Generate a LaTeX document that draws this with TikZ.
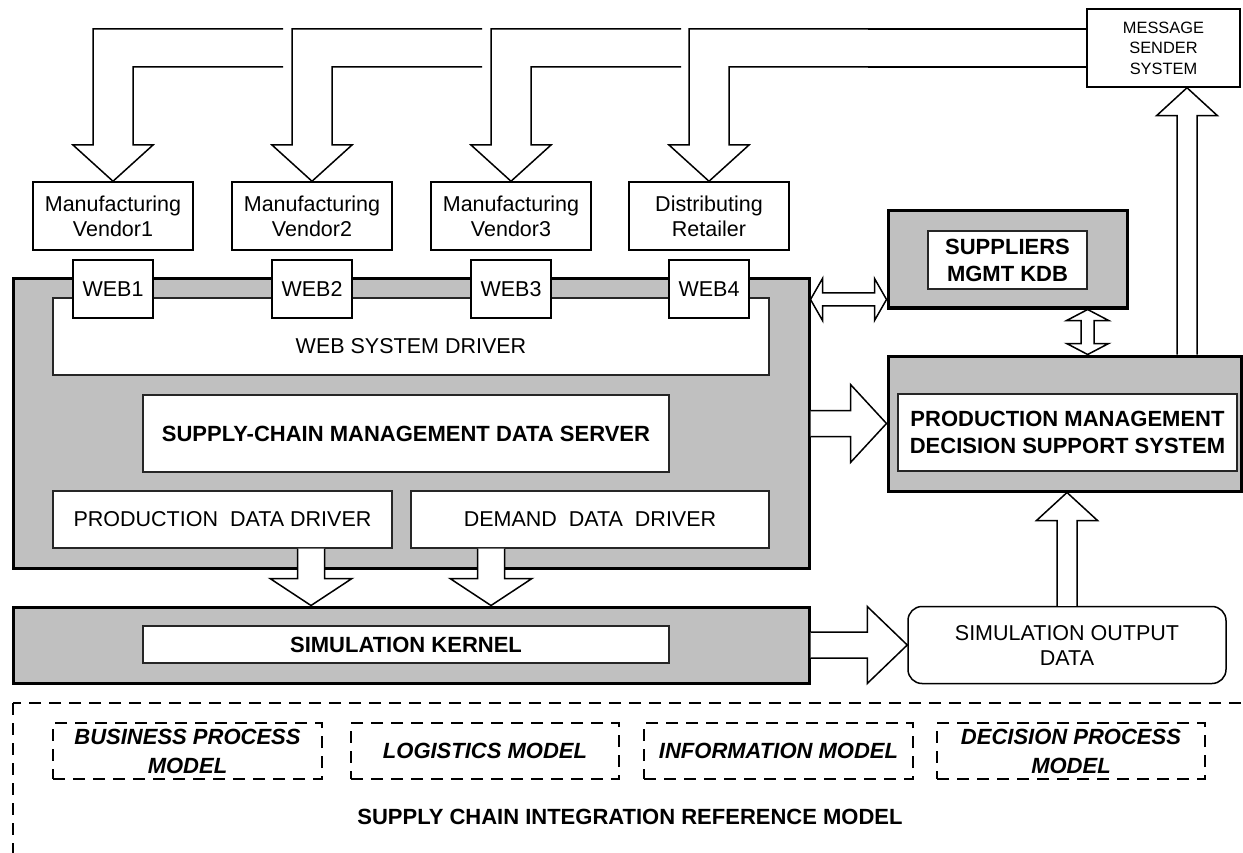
\documentclass[tikz,border=0pt]{standalone}
\usepackage{fontspec}
\setmainfont{Liberation Sans}
\usetikzlibrary{calc}
\definecolor{panelgray}{RGB}{192,192,192}
\newcommand{\txtfont}{\fontsize{21.5}{25}\selectfont}
\newcommand{\hdfont}{\fontsize{22}{27}\selectfont\bfseries}
\newcommand{\mdlfont}{\fontsize{22}{29}\selectfont\bfseries\itshape}
\newcommand{\msgfont}{\fontsize{16.4}{20.5}\selectfont}
\tikzset{
  box/.style={draw, line width=1.5pt, fill=white, align=center, inner sep=0pt, font=\txtfont},
  panel/.style={draw, line width=3pt, fill=panelgray, inner sep=0pt},
  inbox/.style={draw=black!85, line width=1.3pt, fill=white, align=center, inner sep=0pt, font=\txtfont},
  modelbox/.style={draw, line width=2.4pt, dash pattern=on 12pt off 8pt, align=center, inner sep=0pt, font=\mdlfont},
  refframe/.style={draw, line width=2.4pt, dash pattern=on 12pt off 8pt},
  blockarrow/.style={draw, line width=1.5pt, fill=white, line join=miter},
  bus/.style={draw, line width=1.5pt, line join=miter}
}
\newcommand{\fatarrow}[5]{%
  \draw[blockarrow] let \p1=(#1), \p2=(#2),
    \n1={atan2(\y2-\y1,\x2-\x1)}, \n2={veclen(\x2-\x1,\y2-\y1)} in
    [shift={(\p1)}, rotate=\n1]
    (0pt,#3pt) -- ({\n2-#5pt},#3pt) -- ({\n2-#5pt},#4pt) -- ({\n2*1pt},0pt)
    -- ({\n2-#5pt},-#4pt) -- ({\n2-#5pt},-#3pt) -- (0pt,-#3pt);}
\newcommand{\fatdblarrow}[5]{%
  \draw[blockarrow] let \p1=(#1), \p2=(#2),
    \n1={atan2(\y2-\y1,\x2-\x1)}, \n2={veclen(\x2-\x1,\y2-\y1)} in
    [shift={(\p1)}, rotate=\n1]
    (0pt,0pt) -- (#5pt,#4pt) -- (#5pt,#3pt) -- ({\n2-#5pt},#3pt) -- ({\n2-#5pt},#4pt)
    -- ({\n2*1pt},0pt) -- ({\n2-#5pt},-#4pt) -- ({\n2-#5pt},-#3pt) -- (#5pt,-#3pt)
    -- (#5pt,-#4pt) -- cycle;}

\begin{document}
\begin{tikzpicture}[x=1pt, y=-1pt]
\useasboundingbox (0,0) rectangle (1243,853);

\node[panel, minimum width=796, minimum height=289]              (server)        at ( 411,423.5) {};
\node[inbox, minimum width=716, minimum height=77]               (webdriver)     at ( 411,336.5) {};
\node[font=\txtfont]                                             (webdrivertext) at ( 411,346)   {WEB SYSTEM DRIVER};
\node[inbox, font=\hdfont, minimum width=526, minimum height=77] (dataserver)    at ( 406,433.5) {SUPPLY-CHAIN MANAGEMENT DATA SERVER};
\node[inbox, minimum width=339, minimum height=57]               (proddriver)    at (222.5,519.5) {PRODUCTION\ \ DATA DRIVER};
\node[inbox, minimum width=358, minimum height=57]               (demanddriver)  at ( 590,519.5) {DEMAND\ \ DATA\ \ DRIVER};

\node[box, minimum width=160, minimum height=68] (vendor1)  at (113,216) {Manufacturing\\Vendor1};
\node[box, minimum width=160, minimum height=68] (vendor2)  at (312,216) {Manufacturing\\Vendor2};
\node[box, minimum width=160, minimum height=68] (vendor3)  at (511,216) {Manufacturing\\Vendor3};
\node[box, minimum width=160, minimum height=68] (retailer) at (709,216) {Distributing\\Retailer};
\node[box, minimum width=80, minimum height=58]  (web1)     at (113,289) {WEB1};
\node[box, minimum width=80, minimum height=58]  (web2)     at (312,289) {WEB2};
\node[box, minimum width=80, minimum height=58]  (web3)     at (511,289) {WEB3};
\node[box, minimum width=80, minimum height=58]  (web4)     at (709,289) {WEB4};

\node[panel, minimum width=239, minimum height=97]               (suppliers) at (1007.5,259.5) {};
\node[inbox, font=\hdfont, minimum width=159, minimum height=58] (kdb)       at (1007.5,260)   {SUPPLIERS\\MGMT KDB};
\node[panel, minimum width=353, minimum height=135]              (pmdss)     at (1064.5,423.5) {};
\node[inbox, font=\hdfont, minimum width=339, minimum height=77] (dss)       at (1067.5,432.5) {PRODUCTION MANAGEMENT\\DECISION SUPPORT SYSTEM};
\node[box, font=\msgfont, minimum width=153, minimum height=78]  (message)   at (1163.5,48)    {MESSAGE\\SENDER\\SYSTEM};

\node[panel, minimum width=796, minimum height=76]                (sim)    at ( 411,645)   {};
\node[inbox, font=\hdfont, minimum width=526, minimum height=37]  (kernel) at ( 406,644.5) {SIMULATION KERNEL};
\node[box, rounded corners=14, minimum width=318, minimum height=77] (output) at (1067,645) {SIMULATION OUTPUT\\DATA};

\draw[refframe] (13,703) rectangle (1300,900);
\node[modelbox, minimum width=269, minimum height=56] (bpm)  at ( 187.5,751) {BUSINESS PROCESS\\MODEL};
\node[modelbox, minimum width=268, minimum height=56] (logm) at ( 485,751)   {LOGISTICS MODEL};
\node[modelbox, minimum width=269, minimum height=56] (infm) at ( 778.5,751) {INFORMATION MODEL};
\node[modelbox, minimum width=268, minimum height=56] (dpm)  at (1071,751)   {DECISION PROCESS\\MODEL};
\node[font=\hdfont] (refmodel) at (630,817) {SUPPLY CHAIN INTEGRATION REFERENCE MODEL};

\foreach \v/\xc/\xe in {vendor1/113/283, vendor2/312/482, vendor3/511/681, retailer/709/868}
  \draw[bus] (\xe,29) -- (\xc-20,29) -- (\xc-20,145) -- (\xc-40,145) -- (\v.north)
    -- (\xc+40,145) -- (\xc+20,145) -- (\xc+20,67) -- (\xe,67);
\coordinate (busout) at (868,29);
\coordinate (busin)  at (868,67);
\draw[bus] (busout) -- (busout -| message.west);
\draw[bus] (busin) -- (busin -| message.west);

\coordinate (prodport)   at ($(proddriver.south)+(88.5,0)$);
\coordinate (demandport) at ($(demanddriver.south)+(-99,0)$);
\coordinate (msgport)    at ($(message.south)+(23.5,0)$);
\coordinate (kdbport)    at ($(suppliers.south west)+(0,-10)$);
\fatarrow{prodport}{prodport |- sim.north}{13.5}{41}{27}
\fatarrow{demandport}{demandport |- sim.north}{13.5}{41}{27}
\fatarrow{server.east}{pmdss.west}{13}{39}{36}
\fatarrow{sim.east}{output.west}{13}{38.5}{40}
\fatarrow{output.north}{output.north |- pmdss.south}{10}{30.5}{28}
\fatarrow{msgport |- pmdss.north}{msgport}{10}{30.5}{28}
\fatdblarrow{server.east |- kdbport}{kdbport}{6.5}{21}{12}
\fatdblarrow{kdb.east |- suppliers.south}{kdb.east |- pmdss.north}{6.5}{21}{11}
\end{tikzpicture}
\end{document}
